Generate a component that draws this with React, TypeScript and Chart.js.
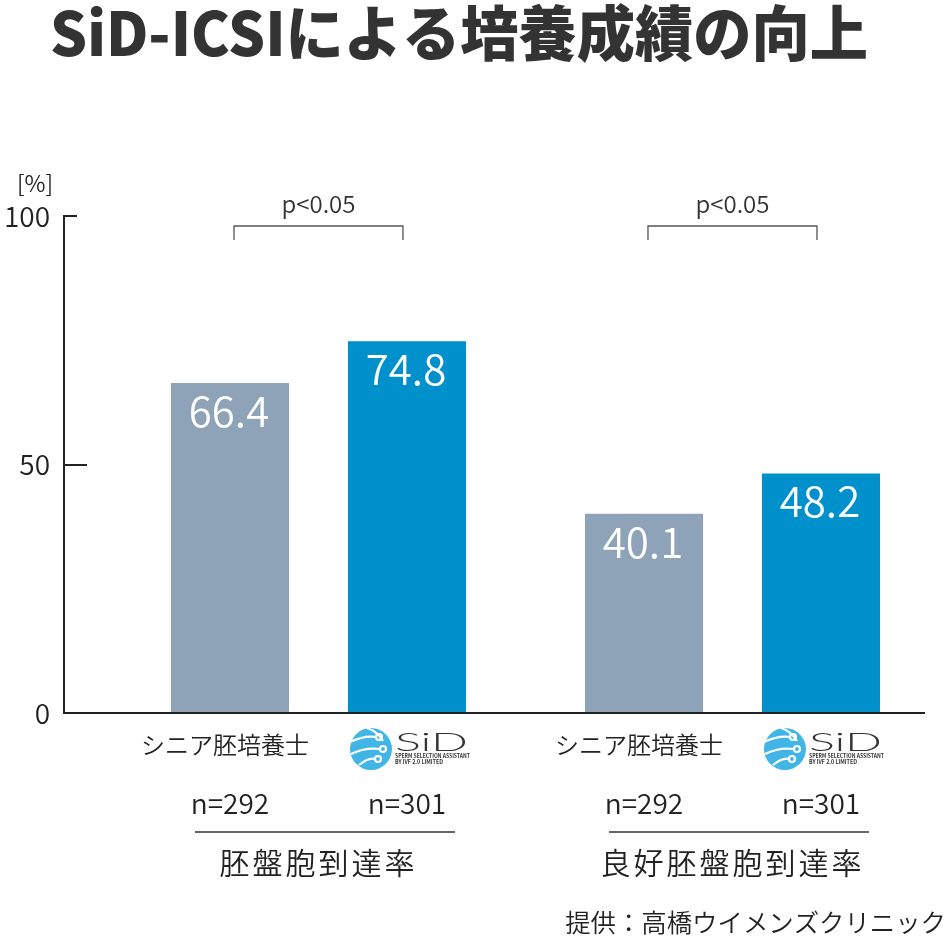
import React, { useEffect, useRef } from 'react';
import { Chart, registerables } from 'chart.js';

Chart.register(...registerables);

const titleText = 'SiD-ICSIによる培養成績の向上';
const groups = ['胚盤胞到達率', '良好胚盤胞到達率'];
const seniorLabel = 'シニア胚培養士';
const seniorValues = [66.4, 40.1];
const sidValues = [74.8, 48.2];
const seniorN = [292, 292];
const sidN = [301, 301];
const pLabels = ['p<0.05', 'p<0.05'];
const yTicks = [0, 50, 100];
const yUnit = '[%]';
const sourceText = '提供：高橋ウイメンズクリニック';

const FONT = '"Noto Sans CJK JP", "Noto Sans", sans-serif';
const GRAY = '#8fa3b8';
const BLUE = '#0091cd';
const TEXT = '#222222';
const W = 350;

function fitText(ctx: CanvasRenderingContext2D, text: string, x: number, y: number, width: number) {
  const w = ctx.measureText(text).width;
  ctx.save();
  ctx.translate(x, y);
  ctx.scale(width / w, 1);
  ctx.fillText(text, 0, 0);
  ctx.restore();
}

function drawLogo(ctx: CanvasRenderingContext2D, cx: number, cy: number) {
  ctx.save();
  ctx.fillStyle = '#40b5e6';
  ctx.beginPath();
  ctx.arc(cx, cy, 21, 0, Math.PI * 2);
  ctx.fill();
  ctx.strokeStyle = '#ffffff';
  ctx.lineWidth = 2.2;
  const paths: [number, number, number, number, number, number][] = [
    [-21, -7, -6, -14, 5, -12],
    [-20, 5, -6, -2, 9, 0],
    [-12, 16, -2, 8, 4, 10],
  ];
  paths.forEach(([x0, y0, qx, qy, x1, y1]) => {
    ctx.beginPath();
    ctx.moveTo(cx + x0, cy + y0);
    ctx.quadraticCurveTo(cx + qx, cy + qy, cx + x1, cy + y1);
    ctx.stroke();
    ctx.beginPath();
    ctx.arc(cx + x1 + 3, cy + y1, 3, 0, Math.PI * 2);
    ctx.stroke();
  });
  ctx.beginPath();
  ctx.moveTo(cx - 4, cy - 21);
  ctx.quadraticCurveTo(cx + 6, cy - 18, cx + 12, cy - 8);
  ctx.stroke();
  // SiD wordmark
  ctx.fillStyle = '#333333';
  ctx.textAlign = 'left';
  ctx.textBaseline = 'alphabetic';
  ctx.font = `300 26px Lato, ${FONT}`;
  fitText(ctx, 'SiD', cx + 24, cy + 2, 73);
  ctx.font = `bold 6px ${FONT}`;
  fitText(ctx, 'SPERM SELECTION ASSISTANT', cx + 24, cy + 9, 75);
  fitText(ctx, 'BY IVF 2.0 LIMITED', cx + 24, cy + 15, 48);
  ctx.restore();
}

const annotPlugin = {
  id: 'annot',
  afterDraw(chart: any) {
    const { ctx, chartArea, scales } = chart;
    const yScale = scales.y;
    const m0 = chart.getDatasetMeta(0);
    const m1 = chart.getDatasetMeta(1);
    ctx.save();

    // title
    ctx.fillStyle = '#333333';
    ctx.font = `900 60px ${FONT}`;
    ctx.textAlign = 'left';
    ctx.textBaseline = 'middle';
    fitText(ctx, titleText, 50, 33, 818);

    // unit
    ctx.fillStyle = TEXT;
    ctx.font = `${W} 23px ${FONT}`;
    ctx.textAlign = 'center';
    ctx.fillText(yUnit, 35, 183);

    // inward ticks
    ctx.strokeStyle = '#222222';
    ctx.lineWidth = 2;
    yTicks.forEach((v) => {
      if (v === 0) return;
      const py = Math.round(yScale.getPixelForValue(v));
      ctx.beginPath();
      ctx.moveTo(chartArea.left - 1, py);
      ctx.lineTo(chartArea.left + (v === yTicks[yTicks.length - 1] ? 13 : 23), py);
      ctx.stroke();
    });

    groups.forEach((g, i) => {
      const b0 = m0.data[i];
      const b1 = m1.data[i];
      const gc = (b0.x + b1.x) / 2;

      // values
      ctx.fillStyle = '#ffffff';
      ctx.font = `${W} 42px ${FONT}`;
      ctx.textAlign = 'center';
      ctx.textBaseline = 'middle';
      ctx.fillText(seniorValues[i].toFixed(1), b0.x - 1, b0.y + 28);
      ctx.fillText(sidValues[i].toFixed(1), b1.x - 1, b1.y + 28);

      // bracket
      const top = chartArea.top + 10;
      const l = b0.x + 4;
      const r = b1.x - 4;
      ctx.strokeStyle = '#555555';
      ctx.lineWidth = 1.3;
      ctx.beginPath();
      ctx.moveTo(l, top + 14);
      ctx.lineTo(l, top);
      ctx.lineTo(r, top);
      ctx.lineTo(r, top + 14);
      ctx.stroke();
      ctx.fillStyle = '#333333';
      ctx.font = `${W} 24px ${FONT}`;
      ctx.fillText(pLabels[i], (l + r) / 2, top - 22);

      // x labels
      ctx.fillStyle = TEXT;
      ctx.font = `${W} 24px ${FONT}`;
      ctx.fillText(seniorLabel, b0.x - 5, chartArea.bottom + 32);
      drawLogo(ctx, b1.x - 36, chartArea.bottom + 36);

      ctx.fillStyle = TEXT;
      ctx.font = `${W} 28px ${FONT}`;
      ctx.textAlign = 'center';
      ctx.textBaseline = 'middle';
      ctx.fillText(`n=${seniorN[i]}`, b0.x, chartArea.bottom + 90);
      ctx.fillText(`n=${sidN[i]}`, b1.x, chartArea.bottom + 90);

      // underline
      ctx.strokeStyle = '#333333';
      ctx.lineWidth = 1.5;
      ctx.beginPath();
      ctx.moveTo(gc + 6.5 - 130, chartArea.bottom + 119);
      ctx.lineTo(gc + 6.5 + 130, chartArea.bottom + 119);
      ctx.stroke();

      // group label
      ctx.font = `${W} 30px ${FONT}`;
      (ctx as any).letterSpacing = '3px';
      ctx.fillText(g, gc, chartArea.bottom + 150);
      (ctx as any).letterSpacing = '0px';
    });

    // source
    ctx.fillStyle = TEXT;
    ctx.font = `${W} 25.4px ${FONT}`;
    ctx.textAlign = 'right';
    ctx.textBaseline = 'middle';
    ctx.fillText(sourceText, 946, 922);

    ctx.restore();
  },
};

export default function App() {
  const ref = useRef<HTMLCanvasElement | null>(null);

  useEffect(() => {
    if (!ref.current) return;
    const chart = new Chart(ref.current, {
      type: 'bar',
      data: {
        datasets: [
          {
            label: seniorLabel,
            data: seniorValues.map((v, i) => ({ x: i, y: v })),
            backgroundColor: GRAY,
          },
          {
            label: 'SiD',
            data: sidValues.map((v, i) => ({ x: i, y: v })),
            backgroundColor: BLUE,
          },
        ],
      },
      options: {
        animation: false,
        responsive: true,
        maintainAspectRatio: false,
        layout: { padding: { top: 216, bottom: 235, left: 0, right: 28 } },
        plugins: {
          legend: { display: false },
          tooltip: { enabled: false },
          title: { display: false },
        },
        datasets: {
          bar: { categoryPercentage: 0.855, barPercentage: 0.667, grouped: true },
        },
        scales: {
          x: {
            type: 'linear',
            min: -0.6147,
            max: 1.4626,
            offset: false,
            grid: { display: true, drawOnChartArea: false, drawTicks: false },
            border: { display: true, color: '#222222', width: 2, z: 1 },
            ticks: { display: false },
            afterBuildTicks: (s: any) => {
              s.ticks = groups.map((_, i) => ({ value: i }));
            },
            afterFit: (s: any) => {
              s.height = 0;
            },
          },
          y: {
            min: yTicks[0],
            max: yTicks[yTicks.length - 1],
            afterBuildTicks: (s: any) => {
              s.ticks = yTicks.map((v) => ({ value: v }));
            },
            ticks: {
              padding: 14,
              color: TEXT,
              font: { family: FONT, size: 28, weight: W },
            },
            grid: { display: true, drawOnChartArea: false, drawTicks: false },
            border: { display: true, color: '#222222', width: 2, z: 1 },
            afterFit: (s: any) => {
              s.width = 64;
            },
          },
        },
      } as any,
      plugins: [annotPlugin],
    });
    return () => chart.destroy();
  }, []);

  return (
    <div style={{ position: 'fixed', left: 0, top: 0, width: 952, height: 948, background: '#ffffff' }}>
      <canvas ref={ref} />
    </div>
  );
}
